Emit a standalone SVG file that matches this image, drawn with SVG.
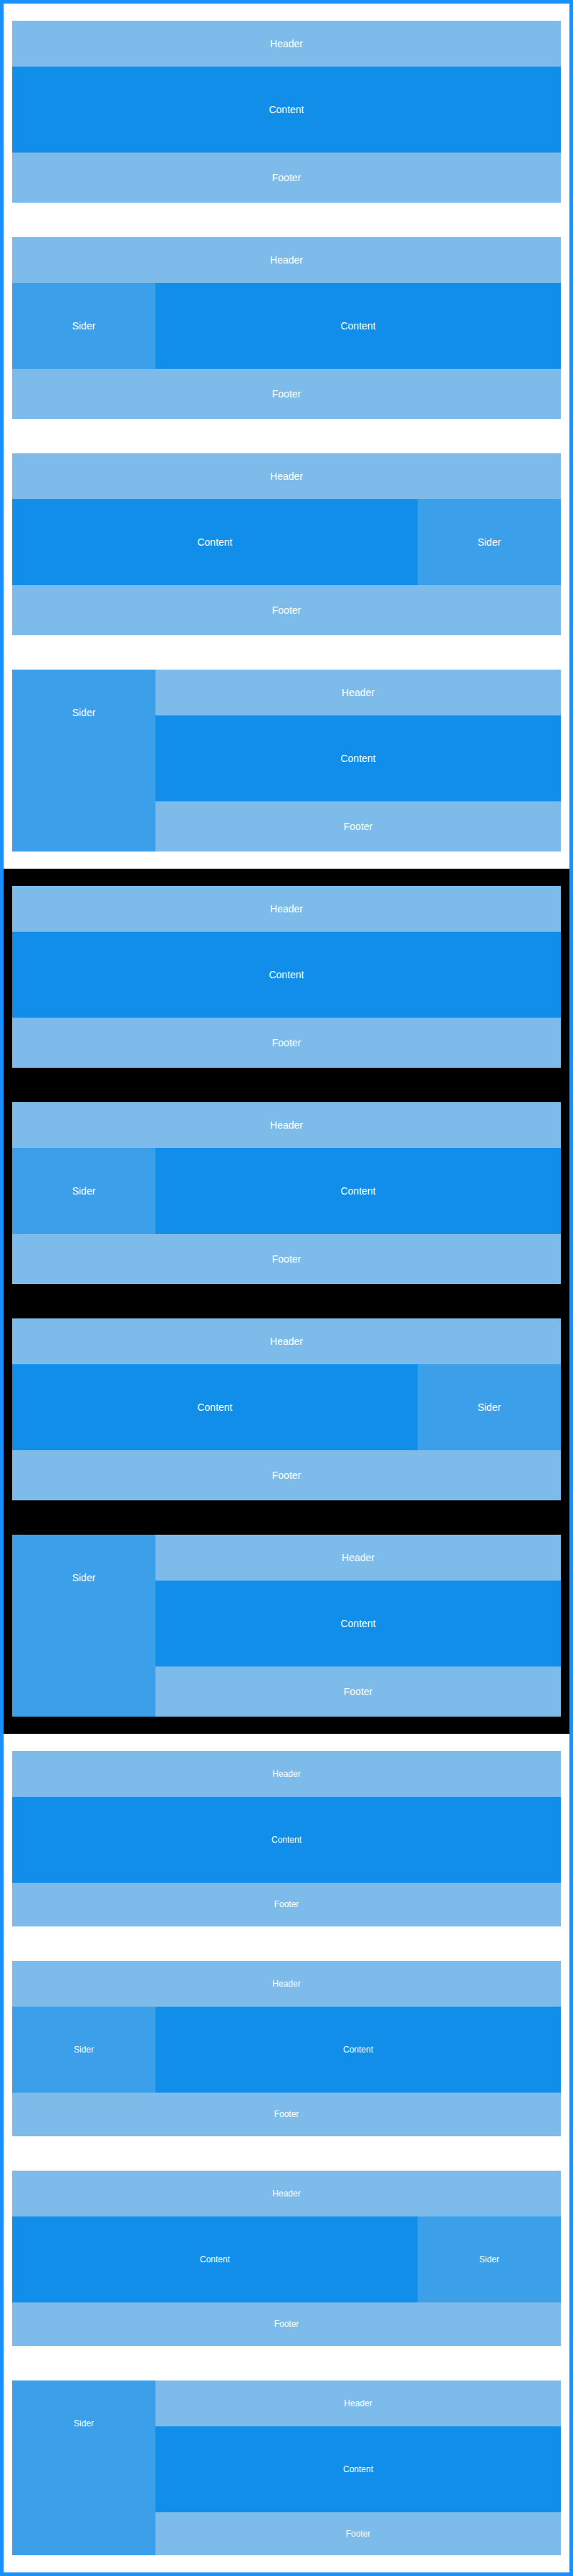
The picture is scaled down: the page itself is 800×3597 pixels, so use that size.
<svg xmlns="http://www.w3.org/2000/svg" width="800" height="3597" viewBox="0 0 800 3597">
<style>
.h{fill:#7dbcea}.c{fill:#108ee9}.s{fill:#3ba0e9}
text{font-family:"Liberation Sans",Arial,sans-serif;font-size:14px;fill:#fff;text-anchor:middle}
.sm text{font-size:12px}
</style>
<rect x="0" y="0" width="800" height="3597" fill="#1890ff"/>
<rect x="5" y="5" width="790" height="3587" fill="#fff"/>
<rect x="5" y="1213" width="790" height="1208" fill="#000"/>

<!-- Section 1 -->
<g id="s1-l1">
<rect class="h" x="17" y="29" width="766" height="64"/><text x="400" y="66">Header</text>
<rect class="c" x="17" y="93" width="766" height="120"/><text x="400" y="158">Content</text>
<rect class="h" x="17" y="213" width="766" height="70"/><text x="400" y="253">Footer</text>
</g>
<g id="s1-l2">
<rect class="h" x="17" y="331" width="766" height="64"/><text x="400" y="368">Header</text>
<rect class="s" x="17" y="395" width="200" height="120"/><text x="117" y="460">Sider</text>
<rect class="c" x="217" y="395" width="566" height="120"/><text x="500" y="460">Content</text>
<rect class="h" x="17" y="515" width="766" height="70"/><text x="400" y="555">Footer</text>
</g>
<g id="s1-l3">
<rect class="h" x="17" y="633" width="766" height="64"/><text x="400" y="670">Header</text>
<rect class="c" x="17" y="697" width="566" height="120"/><text x="300" y="762">Content</text>
<rect class="s" x="583" y="697" width="200" height="120"/><text x="683" y="762">Sider</text>
<rect class="h" x="17" y="817" width="766" height="70"/><text x="400" y="857">Footer</text>
</g>
<g id="s1-l4">
<rect class="s" x="17" y="935" width="200" height="254"/><text x="117" y="1000">Sider</text>
<rect class="h" x="217" y="935" width="566" height="64"/><text x="500" y="972">Header</text>
<rect class="c" x="217" y="999" width="566" height="120"/><text x="500" y="1064">Content</text>
<rect class="h" x="217" y="1119" width="566" height="70"/><text x="500" y="1159">Footer</text>
</g>

<!-- Section 2 (dark) -->
<g id="s2-l1">
<rect class="h" x="17" y="1237" width="766" height="64"/><text x="400" y="1274">Header</text>
<rect class="c" x="17" y="1301" width="766" height="120"/><text x="400" y="1366">Content</text>
<rect class="h" x="17" y="1421" width="766" height="70"/><text x="400" y="1461">Footer</text>
</g>
<g id="s2-l2">
<rect class="h" x="17" y="1539" width="766" height="64"/><text x="400" y="1576">Header</text>
<rect class="s" x="17" y="1603" width="200" height="120"/><text x="117" y="1668">Sider</text>
<rect class="c" x="217" y="1603" width="566" height="120"/><text x="500" y="1668">Content</text>
<rect class="h" x="17" y="1723" width="766" height="70"/><text x="400" y="1763">Footer</text>
</g>
<g id="s2-l3">
<rect class="h" x="17" y="1841" width="766" height="64"/><text x="400" y="1878">Header</text>
<rect class="c" x="17" y="1905" width="566" height="120"/><text x="300" y="1970">Content</text>
<rect class="s" x="583" y="1905" width="200" height="120"/><text x="683" y="1970">Sider</text>
<rect class="h" x="17" y="2025" width="766" height="70"/><text x="400" y="2065">Footer</text>
</g>
<g id="s2-l4">
<rect class="s" x="17" y="2143" width="200" height="254"/><text x="117" y="2208">Sider</text>
<rect class="h" x="217" y="2143" width="566" height="64"/><text x="500" y="2180">Header</text>
<rect class="c" x="217" y="2207" width="566" height="120"/><text x="500" y="2272">Content</text>
<rect class="h" x="217" y="2327" width="566" height="70"/><text x="500" y="2367">Footer</text>
</g>

<!-- Section 3 (small text) -->
<g id="s3-l1" class="sm">
<rect class="h" x="17" y="2445" width="766" height="64"/><text x="400" y="2481">Header</text>
<rect class="c" x="17" y="2509" width="766" height="120"/><text x="400" y="2573">Content</text>
<rect class="h" x="17" y="2629" width="766" height="61"/><text x="400" y="2663">Footer</text>
</g>
<g id="s3-l2" class="sm">
<rect class="h" x="17" y="2738" width="766" height="64"/><text x="400" y="2774">Header</text>
<rect class="s" x="17" y="2802" width="200" height="120"/><text x="117" y="2866">Sider</text>
<rect class="c" x="217" y="2802" width="566" height="120"/><text x="500" y="2866">Content</text>
<rect class="h" x="17" y="2922" width="766" height="61"/><text x="400" y="2956">Footer</text>
</g>
<g id="s3-l3" class="sm">
<rect class="h" x="17" y="3031" width="766" height="64"/><text x="400" y="3067">Header</text>
<rect class="c" x="17" y="3095" width="566" height="120"/><text x="300" y="3159">Content</text>
<rect class="s" x="583" y="3095" width="200" height="120"/><text x="683" y="3159">Sider</text>
<rect class="h" x="17" y="3215" width="766" height="61"/><text x="400" y="3249">Footer</text>
</g>
<g id="s3-l4" class="sm">
<rect class="s" x="17" y="3324" width="200" height="244"/><text x="117" y="3388">Sider</text>
<rect class="h" x="217" y="3324" width="566" height="64"/><text x="500" y="3360">Header</text>
<rect class="c" x="217" y="3388" width="566" height="120"/><text x="500" y="3452">Content</text>
<rect class="h" x="217" y="3508" width="566" height="60"/><text x="500" y="3542">Footer</text>
</g>

<g id="connectors"/>
</svg>
